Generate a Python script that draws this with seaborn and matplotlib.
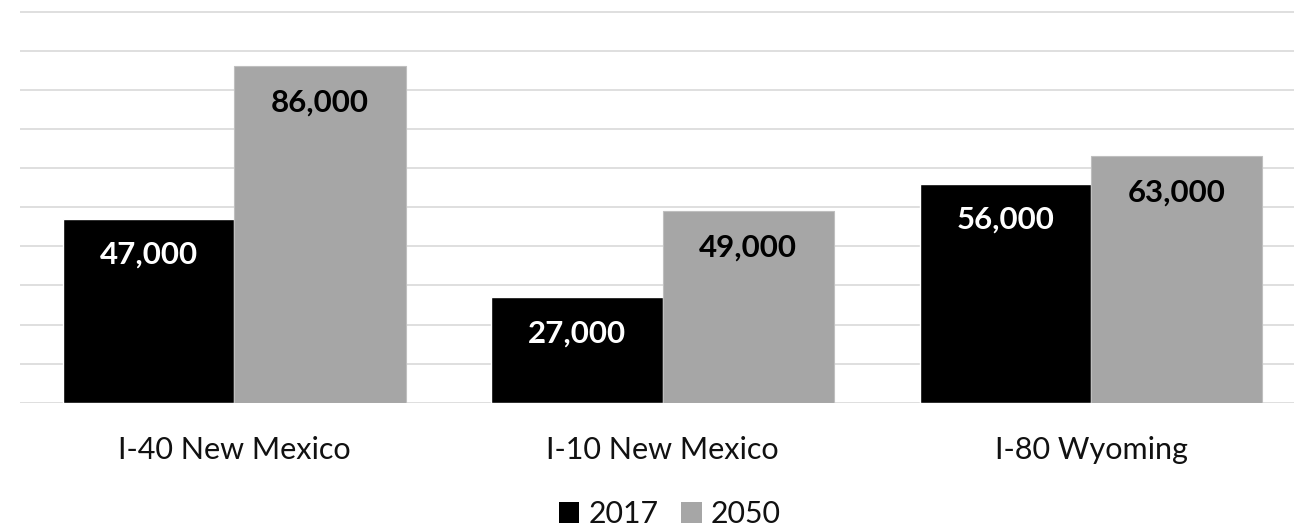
import matplotlib
matplotlib.use("Agg")
import matplotlib.pyplot as plt
import seaborn as sns
import pandas as pd
from matplotlib.patches import Patch

# Data
corridors = ["I-40 New Mexico", "I-10 New Mexico", "I-80 Wyoming"]
years = ["2017", "2050"]
values_2017 = [47000, 27000, 56000]
values_2050 = [86000, 49000, 63000]

df = pd.DataFrame({
    "corridor": corridors * 2,
    "year": [years[0]] * 3 + [years[1]] * 3,
    "value": values_2017 + values_2050,
})

sns.set_theme(style="white")
plt.rcParams["font.family"] = ["Lato", "DejaVu Sans"]

colors = {"2017": "#000000", "2050": "#a6a6a6"}
label_colors = {"2017": "white", "2050": "black"}

fig = plt.figure(figsize=(12.94, 5.31), dpi=100)
ax = fig.add_axes([20 / 1294, 0.2416, 1 - 20 / 1294, 0.7511])

sns.barplot(data=df, x="corridor", y="value", hue="year", order=corridors,
            hue_order=years, palette=colors, saturation=1, width=0.8,
            legend=False, ax=ax)

# Light outline on the grey bars
for patch in ax.containers[1]:
    patch.set_edgecolor("#bfbfbf")
    patch.set_linewidth(0.8)

ax.set_xlim(-0.5, 2.474)
ax.set_ylim(0, 102000)
ax.set_yticks(range(0, 100001, 10000))
ax.yaxis.grid(True, color="#d9d9d9", linewidth=1.2)
ax.set_axisbelow(True)
ax.set_yticklabels([])
ax.tick_params(axis="y", length=0)
ax.tick_params(axis="x", length=0, pad=24, labelsize=22, labelcolor="#111111")
ax.set_xlabel("")
ax.set_ylabel("")
for s in ax.spines.values():
    s.set_visible(False)

# Value labels inside the top of each bar
for container, yr, vals in zip(ax.containers, years, [values_2017, values_2050]):
    for patch, v in zip(container, vals):
        cx = patch.get_x() + patch.get_width() / 2
        ax.annotate(f"{v:,}", xy=(cx, v), xytext=(0, -32.5),
                    textcoords="offset points", ha="center", va="baseline",
                    fontsize=22.5, fontweight="bold", color=label_colors[yr])

handles = [Patch(facecolor=colors[y], edgecolor="none", label=y) for y in years]
fig.legend(handles=handles, loc="center", bbox_to_anchor=(670 / 1294, 1 - 514 / 531),
           ncol=2, frameon=False, fontsize=21.8, handlelength=0.68,
           handleheight=0.68, handletextpad=0.3, columnspacing=0.75,
           labelcolor="#111111")

fig.savefig("out.png", dpi=100)
